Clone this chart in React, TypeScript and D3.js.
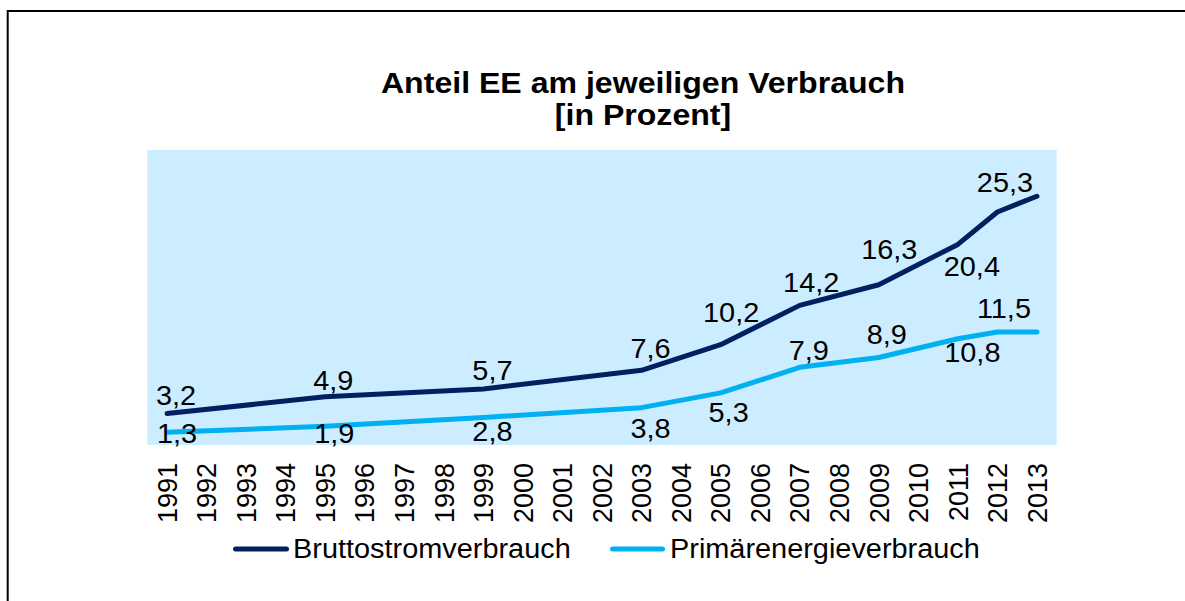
import React from 'react';
import * as d3 from 'd3';

// years on the category axis
const years = [
  '1991', '1992', '1993', '1994', '1995', '1996', '1997', '1998', '1999', '2000', '2001', '2002',
  '2003', '2004', '2005', '2006', '2007', '2008', '2009', '2010', '2011', '2012', '2013',
];

// share of renewables, only some years have values
const bruttoYears = ['1991', '1995', '1999', '2003', '2005', '2007', '2009', '2011', '2012', '2013'];
const bruttoValues = [3.2, 4.9, 5.7, 7.6, 10.2, 14.2, 16.3, 20.4, 23.7, 25.3];

const primaerYears = ['1991', '1995', '1999', '2003', '2005', '2007', '2009', '2011', '2012', '2013'];
const primaerValues = [1.3, 1.9, 2.8, 3.8, 5.3, 7.9, 8.9, 10.8, 11.5, 11.5];

// which years carry a data label
const labelYears = ['1991', '1995', '1999', '2003', '2005', '2007', '2009', '2011', '2013'];

const seriesNames = ['Bruttostromverbrauch', 'Primärenergieverbrauch'];

// label nudges (dx, dy from the point), as placed in the original
const bruttoLabelShift: Record<string, [number, number]> = {
  '1991': [9, -8.5], '1995': [8, -7], '1999': [9, -9], '2003': [9, -12], '2005': [10.5, -23],
  '2007': [11.5, -13.5], '2009': [10.5, -25.5], '2011': [14, 32], '2013': [-32, -4.5],
};
const primaerLabelShift: Record<string, [number, number]> = {
  '1991': [10, 11], '1995': [9, 17], '1999': [9, 24], '2003': [9, 30], '2005': [8, 29],
  '2007': [9, -7], '2009': [8, -13.5], '2011': [14.5, 23], '2013': [-33, -13.5],
};

const W = 1185;
const H = 601;
const FONT = '"Liberation Sans", Arial, sans-serif';
const STRETCH = 1.07;
const DARK = '#002060';
const LIGHT = '#00b0f0';

const plot = { left: 147.3, right: 1056.7, top: 150, bottom: 445 };

function Txt({ x, y, anchor = 'middle', size = 27, weight = 'normal', children }: any) {
  return (
    <text
      transform={`translate(${x},${y}) scale(${STRETCH},1)`}
      textAnchor={anchor}
      fontSize={size}
      fontWeight={weight}
      fontFamily={FONT}
      fill="#000"
    >
      {children}
    </text>
  );
}

export default function App() {
  const x = d3.scalePoint<string>().domain(years).range([plot.left, plot.right]).padding(0.5);
  const y = d3.scaleLinear().domain([0, 30]).range([plot.bottom, plot.top]);

  const brutto = bruttoYears.map((yr, i) => ({ year: yr, value: bruttoValues[i] }));
  const primaer = primaerYears.map((yr, i) => ({ year: yr, value: primaerValues[i] }));

  const line = d3.line<{ year: string; value: number }>()
    .x(d => x(d.year) as number)
    .y(d => y(d.value));

  const fmt = (v: number) => v.toFixed(1).replace('.', ',');

  const series = [
    { data: brutto, color: DARK, shift: bruttoLabelShift },
    { data: primaer, color: LIGHT, shift: primaerLabelShift },
  ];

  return (
    <svg width={W} height={H} style={{ position: 'absolute', left: 0, top: 0, background: '#fff' }}>
      <rect x={7.7} y={11} width={1250} height={650} fill="none" stroke="#000" strokeWidth={2} />

      {/* title */}
      <Txt x={643} y={92.5} size={30} weight="bold">Anteil EE am jeweiligen Verbrauch</Txt>
      <Txt x={643} y={124.5} size={30} weight="bold">[in Prozent]</Txt>

      {/* plot area */}
      <rect x={plot.left} y={plot.top} width={plot.right - plot.left} height={plot.bottom - plot.top} fill="#ccecff" />

      {series.map((s, i) => (
        <path key={i} d={line(s.data) || ''} fill="none" stroke={s.color} strokeWidth={5}
          strokeLinecap="round" strokeLinejoin="round" />
      ))}

      {series.map((s, i) => (
        <g key={'l' + i}>
          {s.data.filter(d => labelYears.includes(d.year)).map(d => {
            const [dx, dy] = s.shift[d.year] || [0, -8];
            return (
              <Txt key={d.year} x={(x(d.year) as number) + dx} y={y(d.value) + dy}>{fmt(d.value)}</Txt>
            );
          })}
        </g>
      ))}

      {/* category labels */}
      {years.map(yr => (
        <text key={yr} transform={`translate(${x(yr)},463) rotate(-90)`} textAnchor="end" dy="0.36em"
          fontSize={27} fontFamily={FONT} fill="#000">{yr}</text>
      ))}

      {/* legend */}
      <line x1={235.5} x2={286.5} y1={549} y2={549} stroke={DARK} strokeWidth={5} strokeLinecap="round" />
      <Txt x={293} y={558} anchor="start">{seriesNames[0]}</Txt>
      <line x1={612.5} x2={662.5} y1={549} y2={549} stroke={LIGHT} strokeWidth={5} strokeLinecap="round" />
      <Txt x={670} y={558} anchor="start">{seriesNames[1]}</Txt>
    </svg>
  );
}
